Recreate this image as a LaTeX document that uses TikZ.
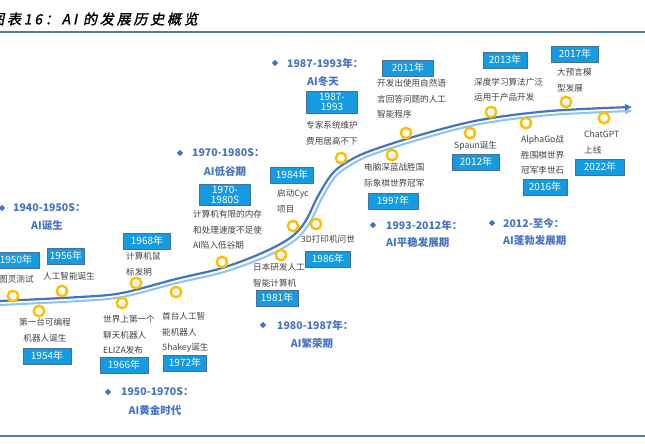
\documentclass[tikz,border=0pt]{standalone}
\usepackage{fontspec}
\setmainfont{Noto Sans CJK SC}
\newfontfamily\titlefont[FakeSlant=0.2, FakeBold=1.5, LetterSpace=20]{Noto Sans CJK SC}
\usetikzlibrary{shapes.geometric, arrows.meta, positioning}
\definecolor{boxblue}{RGB}{20,155,225}
\definecolor{boxline}{RGB}{75,110,150}
\definecolor{ringgold}{RGB}{255,190,0}
\definecolor{darkline}{RGB}{68,114,196}
\definecolor{lightline}{RGB}{140,195,240}
\definecolor{headblue}{RGB}{68,114,196}
\definecolor{rulecol}{RGB}{80,125,155}
\definecolor{txtgray}{RGB}{64,64,64}
\tikzset{
    yearbox/.style={draw=boxline, fill=boxblue, text=white, line width=0.6pt, minimum width=45pt, minimum height=16pt, inner sep=1pt, align=center, font=\fontsize{10}{10.5}\selectfont},
    event/.style={circle, draw=ringgold, fill=white, line width=2.4pt, minimum size=10.5pt, inner sep=0pt},
    desc/.style={anchor=north west, inner sep=0pt, align=left, text=txtgray, font=\fontsize{8.6}{15.5}\selectfont},
    period/.style={inner sep=0pt, text=headblue, font=\fontsize{10.5}{12}\selectfont\bfseries},
    bullet/.style={diamond, fill=headblue, inner sep=0pt, minimum size=6.5pt},
    rule/.style={draw=rulecol, line width=1.8pt},
    arrow/.style={-{Triangle[length=7pt, width=6pt]}}
}

\begin{document}
\begin{tikzpicture}[x=1pt, y=-1pt]
\useasboundingbox (0,0) rectangle (645,444);
\node[anchor=west, inner sep=0pt, font=\titlefont\fontsize{14}{16}\selectfont] (title) at (-10,19) {图表16：AI 的发展历史概览};
\draw[rule] (0,32) -- (645,32);
\draw[rule, line width=1.4pt] (0,436) -- (645,436);

% timeline
\draw[lightline, line width=2pt, arrow] plot[smooth, tension=0.55] coordinates {(0,305) (80,301) (122,297) (177,283) (224,272) (265,257) (294,241) (309,224) (322,198) (335,177) (349,166) (371,155) (421,139) (480,124) (550,115) (632,111)};
\draw[darkline, line width=2.2pt, arrow] plot[smooth, tension=0.55] coordinates {(0,301) (80,297) (122,293) (176,279) (222,268) (262,253) (290,238) (305,222) (318,196) (332,174) (347,162) (370,151) (420,135) (480,120) (550,111) (632,107)};

% events
\node[event] (e1950) at (13,296) {};
\node[event] (e1954) at (39,311) {};
\node[event] (e1956) at (62,291) {};
\node[event] (e1966) at (122,303) {};
\node[event] (e1968) at (136,283) {};
\node[event] (e1972) at (176,292) {};
\node[event] (e1970) at (222,262) {};
\node[event] (e1981) at (281,255) {};
\node[event] (e1984) at (293,226) {};
\node[event] (e1986) at (316,224) {};
\node[event] (e1987) at (341,158) {};
\node[event] (e1997) at (392,155) {};
\node[event] (e2011) at (406,133) {};
\node[event] (e2012) at (470,133) {};
\node[event] (e2013) at (491,112) {};
\node[event] (e2016) at (526,123) {};
\node[event] (e2017) at (566,102) {};
\node[event] (e2022) at (604,118) {};

% years
\node[yearbox, minimum width=46pt] (b1950) at (16,260) {1950年};
\node[yearbox, minimum width=37pt] (b1956) at (66,256) {1956年};
\node[yearbox, minimum width=48pt] (b1954) at (47,356) {1954年};
\node[yearbox, minimum width=48pt] (b1966) at (124,365) {1966年};
\node[yearbox, minimum width=43pt] (b1972) at (185,363) {1972年};
\node[yearbox, minimum width=47pt] (b1968) at (147,241) {1968年};
\node[yearbox, minimum width=51pt, minimum height=21pt, inner sep=0.5pt] (b1970) at (225,195) {1970-\\1980S};
\node[yearbox, minimum width=43pt] (b1984) at (292,175) {1984年};
\node[yearbox, minimum width=42pt] (b1981) at (277,298) {1981年};
\node[yearbox] (b1986) at (328,259) {1986年};
\node[yearbox, minimum width=51pt, minimum height=22pt, inner sep=0.5pt] (b1987) at (332,102) {1987-\\1993};
\node[yearbox, minimum width=51pt] (b2011) at (408,68) {2011年};
\node[yearbox, minimum width=50pt] (b1997) at (393,201) {1997年};
\node[yearbox, minimum width=47pt] (b2012) at (476,162) {2012年};
\node[yearbox, minimum width=44pt] (b2013) at (505,60) {2013年};
\node[yearbox, minimum width=44pt] (b2016) at (545,187) {2016年};
\node[yearbox, minimum width=47pt] (b2017) at (575,54) {2017年};
\node[yearbox, minimum width=49pt] (b2022) at (600,167) {2022年};

% texts
\node[desc] (t1950) at (-1,275.5) {图灵测试};
\node[desc, anchor=north] (t1956) at (69,272.5) {人工智能诞生};
\node[desc, anchor=north, align=center] (t1954) at (45,318.5) {第一台可编程\\机器人诞生};
\node[desc] (t1968) at (126,252.5) {计算机鼠\\标发明};
\node[desc] (t1966) at (103,315.5) {世界上第一个\\聊天机器人\\ELIZA发布};
\node[desc] (t1972) at (162,312.5) {首台人工智\\能机器人\\Shakey诞生};
\node[desc] (t1970) at (193,210.5) {计算机有限的内存\\和处理速度不足使\\AI陷入低谷期};
\node[desc] (t1984) at (277,189.5) {启动Cyc\\项目};
\node[desc] (t1981) at (253,263.5) {日本研发人工\\智能计算机};
\node[desc] (t1986) at (301,235.5) {3D打印机问世};
\node[desc] (t1987) at (306,121.5) {专家系统维护\\费用居高不下};
\node[desc] (t2011) at (377,79.5) {开发出使用自然语\\言回答问题的人工\\智能程序};
\node[desc] (t1997) at (364,163.5) {电脑深蓝战胜国\\际象棋世界冠军};
\node[desc] (t2012) at (454,141.5) {Spaun诞生};
\node[desc] (t2013) at (474,77.5) {深度学习算法广泛\\运用于产品开发};
\node[desc] (t2016) at (521,135.5) {AlphaGo战\\胜围棋世界\\冠军李世石};
\node[desc] (t2017) at (557,68.5) {大预言模\\型发展};
\node[desc] (t2022) at (584,130.5) {ChatGPT\\上线};

% periods
\node[bullet] (d1) at (2,208) {};
\node[period, anchor=west] (p1) at (13,208) {1940-1950S：};
\node[period] (q1) at (47,226) {AI诞生};
\node[bullet] (d2) at (108,392) {};
\node[period, anchor=west] (p2) at (121,392) {1950-1970S：};
\node[period] (q2) at (155,410) {AI黄金时代};
\node[bullet] (d3) at (180,153) {};
\node[period, anchor=west] (p3) at (192,153) {1970-1980S：};
\node[period] (q3) at (225,172) {AI低谷期};
\node[bullet] (d4) at (263,325) {};
\node[period, anchor=west] (p4) at (277,325) {1980-1987年：};
\node[period] (q4) at (312,343) {AI繁荣期};
\node[bullet] (d5) at (275,63) {};
\node[period, anchor=west] (p5) at (287,63) {1987-1993年：};
\node[period] (q5) at (323,82) {AI冬天};
\node[bullet] (d6) at (373,225) {};
\node[period, anchor=west] (p6) at (386,225) {1993-2012年：};
\node[period, anchor=west] (q6) at (386,243) {AI平稳发展期};
\node[bullet] (d7) at (492,223) {};
\node[period, anchor=west] (p7) at (503,223) {2012-至今：};
\node[period, anchor=west] (q7) at (503,241) {AI蓬勃发展期};
\end{tikzpicture}
\end{document}
